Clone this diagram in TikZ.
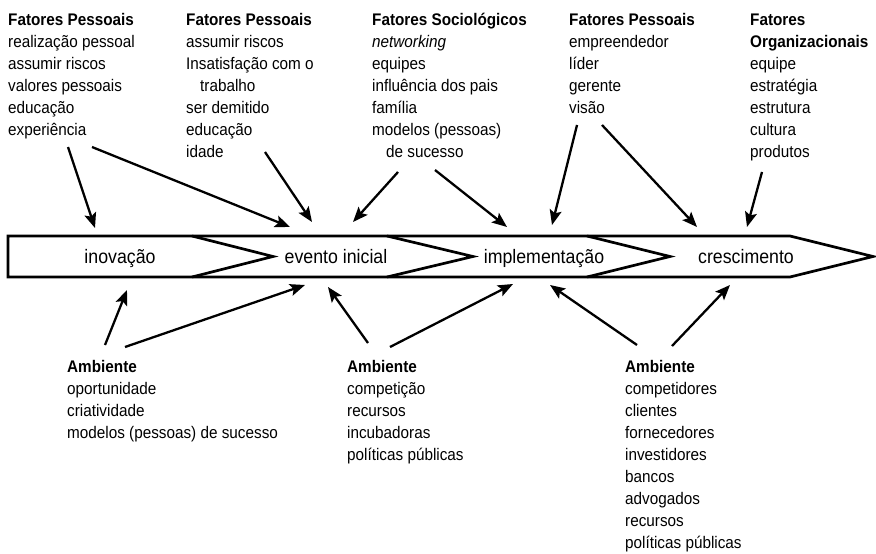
\documentclass[tikz,border=0pt]{standalone}
\usepackage{fontspec}
\setmainfont{Liberation Sans}[FakeStretch=0.91]
\usetikzlibrary{arrows.meta}
\newcommand{\mystrut}{\rule{0pt}{15.5pt}}
\begin{document}
\begin{tikzpicture}[x=1pt,y=-1pt,
  txt/.style={anchor=north west, inner sep=0pt, align=left, font=\fontsize{16.8}{22}\selectfont},
  lab/.style={anchor=base, inner sep=0pt, font=\fontsize{19.5}{22}\selectfont},
  band/.style={line width=2.7pt, line join=miter},
  arr/.style={line width=2.3pt, -{Stealth[length=15pt,width=12pt,inset=3pt]}}]
\useasboundingbox[fill=white] (0,0) rectangle (876,554);

% text blocks (top)
\node[txt] (p1) at (8,10) {\mystrut\textbf{Fatores Pessoais}\\realização pessoal\\assumir riscos\\valores pessoais\\educação\\experiência};
\node[txt] (p2) at (186,10) {\mystrut\textbf{Fatores Pessoais}\\assumir riscos\\Insatisfação com o\\\hspace*{14pt}trabalho\\ser demitido\\educação\\idade};
\node[txt] (s3) at (372,10) {\mystrut\textbf{Fatores Sociológicos}\\\textit{networking}\\equipes\\influência dos pais\\família\\modelos (pessoas)\\\hspace*{14pt}de sucesso};
\node[txt] (p4) at (569,10) {\mystrut\textbf{Fatores Pessoais}\\empreendedor\\líder\\gerente\\visão};
\node[txt] (o5) at (750,10) {\mystrut\textbf{Fatores}\\\textbf{Organizacionais}\\equipe\\estratégia\\estrutura\\cultura\\produtos};

% text blocks (bottom)
\node[txt] (a6) at (67,356.5) {\mystrut\textbf{Ambiente}\\oportunidade\\criatividade\\modelos (pessoas) de sucesso};
\node[txt] (a7) at (347,356.5) {\mystrut\textbf{Ambiente}\\competição\\recursos\\incubadoras\\políticas públicas};
\node[txt] (a8) at (625,356.5) {\mystrut\textbf{Ambiente}\\competidores\\clientes\\fornecedores\\investidores\\bancos\\advogados\\recursos\\políticas públicas};

% band
\draw[band] (8,236) -- (790,236) -- (873,256.5) -- (790,277) -- (8,277) -- cycle;
\draw[band] (192,236) -- (273,256.5) -- (192,277);
\draw[band] (387,236) -- (473,256.5) -- (387,277);
\draw[band] (587,236) -- (670,256.5) -- (587,277);

\node[lab] (inov) at (120,263) {inovação};
\node[lab] (evento) at (336,263) {evento inicial};
\node[lab] (impl) at (544,263) {implementação};
\node[lab] (cresc) at (746,263) {crescimento};

% arrow end points
\coordinate (t1s) at (68,147);  \coordinate (t1e) at (95,228);
\coordinate (t2s) at (92,147);  \coordinate (t2e) at (290,227);
\coordinate (t3s) at (265,152); \coordinate (t3e) at (312,222);
\coordinate (t4s) at (398,172); \coordinate (t4e) at (353,222);
\coordinate (t5s) at (435,170); \coordinate (t5e) at (507,227);
\coordinate (t6s) at (577,125); \coordinate (t6e) at (552,225);
\coordinate (t7s) at (602,125); \coordinate (t7e) at (697,227);
\coordinate (t8s) at (762,172); \coordinate (t8e) at (747,227);

\coordinate (b1s) at (105,345); \coordinate (b1e) at (127,290);
\coordinate (b2s) at (125,347); \coordinate (b2e) at (305,285);
\coordinate (b3s) at (368,343); \coordinate (b3e) at (328,287);
\coordinate (b4s) at (390,347); \coordinate (b4e) at (513,284);
\coordinate (b5s) at (637,345); \coordinate (b5e) at (550,285);
\coordinate (b6s) at (672,346); \coordinate (b6e) at (730,285);

\foreach \n in {t1,t2,t3,t4,t5,t6,t7,t8,b1,b2,b3,b4,b5,b6}
  \draw[arr] (\n s) -- (\n e);
\end{tikzpicture}
\end{document}
